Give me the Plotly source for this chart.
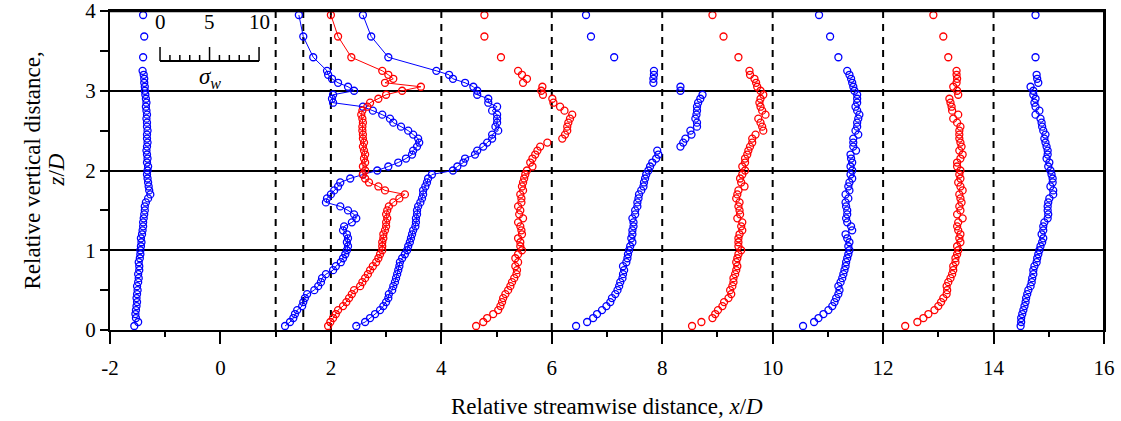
import plotly.graph_objects as go

# Measurement heights z/D (same for every profile)
Z = [0.05, 0.10, 0.15, 0.20, 0.25, 0.30, 0.35, 0.40, 0.45, 0.50,
     0.55, 0.60, 0.65, 0.70, 0.75, 0.80, 0.85, 0.90, 0.95, 1.00,
     1.05, 1.10, 1.15, 1.20, 1.25, 1.30, 1.35, 1.40, 1.45, 1.50,
     1.55, 1.60, 1.65, 1.70, 1.75, 1.80, 1.85, 1.90, 1.95, 2.00,
     2.05, 2.10, 2.15, 2.20, 2.25, 2.30, 2.35, 2.40, 2.45, 2.50,
     2.55, 2.60, 2.65, 2.70, 2.75, 2.80, 2.85, 2.90, 2.95, 3.00,
     3.05, 3.10, 3.15, 3.20, 3.25, 3.42, 3.68, 3.95]

# Profile positions (x/D), baseline station + scaled sigma_w
X_UP = [-1.56, -1.49, -1.53, -1.54, -1.53, -1.52, -1.51, -1.52, -1.51, -1.50,
        -1.51, -1.49, -1.48, -1.49, -1.47, -1.47, -1.48, -1.46, -1.45, -1.45,
        -1.44, -1.43, -1.44, -1.42, -1.41, -1.40, -1.40, -1.39, -1.38, -1.37,
        -1.37, -1.35, -1.31, -1.27, -1.29, -1.30, -1.31, -1.32, -1.33, -1.32,
        -1.31, -1.33, -1.32, -1.33, -1.34, -1.33, -1.32, -1.33, -1.33, -1.32,
        -1.33, -1.33, -1.34, -1.33, -1.34, -1.35, -1.34, -1.35, -1.36, -1.37,
        -1.37, -1.38, -1.38, -1.39, -1.41, -1.40, -1.38, -1.40]

X_1 = [1.17, 1.26, 1.32, 1.35, 1.39, 1.48, 1.50, 1.53, 1.57, 1.70,
       1.77, 1.82, 1.84, 1.91, 2.04, 2.09, 2.18, 2.22, 2.26, 2.29,
       2.31, 2.29, 2.31, 2.29, 2.22, 2.24, 2.38, 2.46, 2.42, 2.31,
       2.17, 1.91, 1.93, 2.00, 2.06, 2.13, 2.17, 2.35, 2.58, 2.84,
       3.04, 3.22, 3.36, 3.47, 3.49, 3.56, 3.60, 3.58, 3.49, 3.40,
       3.27, 3.13, 3.07, 2.93, 2.76, 2.58, 2.04, 2.02, 2.04, 2.42,
       2.31, 2.13, 2.02, 1.95, 1.93, 1.68, 1.50, 1.42]

X_1_5 = [1.95, 1.99, 2.04, 2.09, 2.13, 2.22, 2.28, 2.33, 2.38, 2.42,
         2.53, 2.57, 2.62, 2.67, 2.71, 2.76, 2.82, 2.86, 2.89, 2.93,
         2.93, 2.93, 2.95, 2.95, 2.98, 3.00, 3.00, 3.02, 3.00, 3.02,
         3.05, 3.13, 3.24, 3.34, 2.98, 2.86, 2.69, 2.62, 2.58, 2.62,
         2.58, 2.62, 2.60, 2.62, 2.60, 2.58, 2.60, 2.58, 2.58, 2.57,
         2.57, 2.58, 2.57, 2.55, 2.57, 2.66, 2.71, 2.86, 3.00, 3.29,
         3.63, 2.98, 3.13, 3.04, 2.93, 2.37, 2.13, 2.00]

X_2 = [2.46, 2.62, 2.71, 2.80, 2.89, 2.95, 3.00, 3.04, 3.05, 3.11,
       3.13, 3.16, 3.18, 3.20, 3.22, 3.24, 3.25, 3.29, 3.34, 3.38,
       3.40, 3.43, 3.45, 3.47, 3.49, 3.53, 3.54, 3.54, 3.56, 3.56,
       3.58, 3.62, 3.65, 3.67, 3.67, 3.71, 3.74, 3.76, 3.83, 4.21,
       4.29, 4.40, 4.43, 4.61, 4.65, 4.76, 4.83, 4.92, 4.92, 5.03,
       4.98, 5.01, 5.01, 5.01, 4.92, 5.01, 4.85, 4.85, 4.65, 4.65,
       4.58, 4.43, 4.21, 4.14, 3.91, 3.04, 2.73, 2.58]

X_4 = [4.63, 4.76, 4.83, 4.94, 5.03, 5.07, 5.10, 5.12, 5.16, 5.21,
       5.25, 5.28, 5.32, 5.36, 5.37, 5.34, 5.39, 5.34, 5.39, 5.46,
       5.43, 5.43, 5.39, 5.46, 5.45, 5.43, 5.39, 5.48, 5.41, 5.43,
       5.39, 5.45, 5.45, 5.43, 5.48, 5.46, 5.48, 5.50, 5.52, 5.55,
       5.65, 5.61, 5.65, 5.70, 5.74, 5.79, 5.92, 6.19, 6.24, 6.28,
       6.28, 6.30, 6.33, 6.37, 6.23, 6.15, 6.03, 6.01, 5.84, 5.81,
       5.83, 5.48, 5.55, 5.46, 5.39, 5.08, 4.78, 4.78]

X_6 = [6.44, 6.64, 6.75, 6.82, 6.91, 6.99, 7.06, 7.09, 7.15, 7.19,
       7.22, 7.24, 7.28, 7.29, 7.31, 7.29, 7.35, 7.37, 7.38, 7.40,
       7.42, 7.46, 7.44, 7.46, 7.46, 7.48, 7.48, 7.46, 7.51, 7.51,
       7.55, 7.55, 7.57, 7.58, 7.62, 7.66, 7.67, 7.69, 7.71, 7.75,
       7.78, 7.82, 7.89, 7.93, 7.91, 8.33, 8.38, 8.42, 8.53, 8.51,
       8.63, 8.63, 8.60, 8.62, 8.63, 8.63, 8.65, 8.69, 8.73, 8.33,
       8.33, 7.84, 7.84, 7.85, 7.85, 7.13, 6.71, 6.62]

X_8 = [8.54, 8.71, 8.91, 8.96, 9.01, 9.09, 9.12, 9.20, 9.25, 9.23,
       9.27, 9.29, 9.29, 9.32, 9.34, 9.36, 9.34, 9.36, 9.38, 9.43,
       9.38, 9.38, 9.38, 9.40, 9.45, 9.43, 9.45, 9.36, 9.41, 9.40,
       9.38, 9.40, 9.34, 9.36, 9.38, 9.49, 9.43, 9.41, 9.45, 9.50,
       9.45, 9.50, 9.50, 9.54, 9.56, 9.59, 9.63, 9.63, 9.69, 9.83,
       9.81, 9.78, 9.74, 9.87, 9.81, 9.78, 9.76, 9.78, 9.83, 9.78,
       9.72, 9.70, 9.67, 9.59, 9.58, 9.38, 9.11, 8.91]

X_10 = [10.55, 10.75, 10.83, 10.92, 11.01, 11.08, 11.12, 11.15, 11.19, 11.21,
        11.19, 11.23, 11.26, 11.28, 11.30, 11.32, 11.33, 11.35, 11.37, 11.39,
        11.37, 11.39, 11.35, 11.32, 11.44, 11.42, 11.35, 11.33, 11.35, 11.35,
        11.33, 11.32, 11.37, 11.32, 11.39, 11.37, 11.39, 11.44, 11.41, 11.44,
        11.41, 11.44, 11.42, 11.41, 11.51, 11.46, 11.46, 11.46, 11.55, 11.50,
        11.53, 11.53, 11.55, 11.57, 11.53, 11.50, 11.53, 11.53, 11.53, 11.48,
        11.46, 11.44, 11.42, 11.39, 11.35, 11.19, 11.04, 10.84]

X_12 = [12.40, 12.62, 12.73, 12.82, 12.93, 13.00, 13.05, 13.09, 13.15, 13.16,
        13.15, 13.18, 13.22, 13.25, 13.27, 13.27, 13.31, 13.31, 13.34, 13.36,
        13.34, 13.40, 13.38, 13.40, 13.36, 13.34, 13.36, 13.44, 13.34, 13.40,
        13.38, 13.42, 13.40, 13.38, 13.44, 13.40, 13.36, 13.40, 13.38, 13.40,
        13.34, 13.34, 13.40, 13.44, 13.38, 13.42, 13.40, 13.38, 13.38, 13.38,
        13.40, 13.34, 13.27, 13.36, 13.25, 13.24, 13.22, 13.20, 13.36, 13.34,
        13.27, 13.33, 13.34, 13.33, 13.33, 13.18, 13.09, 12.91]

X_14 = [14.49, 14.50, 14.50, 14.52, 14.54, 14.56, 14.58, 14.59, 14.61, 14.63,
        14.67, 14.69, 14.70, 14.72, 14.72, 14.74, 14.78, 14.79, 14.81, 14.83,
        14.85, 14.88, 14.90, 14.87, 14.90, 14.90, 14.92, 14.98, 14.99, 14.98,
        14.98, 14.99, 15.01, 15.08, 15.08, 15.03, 15.07, 15.07, 15.05, 15.03,
        14.99, 15.01, 14.96, 14.98, 14.98, 14.96, 14.94, 14.92, 14.94, 14.90,
        14.88, 14.87, 14.85, 14.76, 14.83, 14.76, 14.74, 14.76, 14.72, 14.72,
        14.67, 14.81, 14.79, 14.78, None, 14.76, None, 14.76]

# Baseline stations drawn as dashed verticals
STATIONS = [1, 1.5, 2, 4, 6, 8, 10, 12, 14]

# Axis ticks (hyphen minus as printed)
X_TICKS = [-2, 0, 2, 4, 6, 8, 10, 12, 14, 16]
X_TICK_TEXT = ["-2", "0", "2", "4", "6", "8", "10", "12", "14", "16"]
Y_TICKS = [0, 1, 2, 3, 4]

# Scale bar for sigma_w (x/D per unit of sigma_w)
SIGMA_SCALE = 0.1793
SCALE_X0 = -1.094
SCALE_Z = 3.373
SCALE_LABELS = [0, 5, 10]

BLUE = "#0000FF"
RED = "#FF0000"
FONT = "Times New Roman, Liberation Serif, serif"

profiles = [
    (X_UP, BLUE, False),
    (X_1, BLUE, True),
    (X_1_5, RED, True),
    (X_2, BLUE, True),
    (X_4, RED, False),
    (X_6, BLUE, False),
    (X_8, RED, False),
    (X_10, BLUE, False),
    (X_12, RED, False),
    (X_14, BLUE, False),
]

fig = go.Figure()
for xs, color, joined in profiles:
    fig.add_trace(go.Scatter(
        x=xs, y=Z,
        mode="lines+markers" if joined else "markers",
        line=dict(color=color, width=1),
        marker=dict(symbol="circle-open", size=7, color=color,
                    line=dict(width=1.3, color=color)),
        connectgaps=False,
        hoverinfo="skip",
    ))

shapes = []
for s in STATIONS:
    shapes.append(dict(type="line", xref="x", yref="y", x0=s, x1=s, y0=0, y1=4,
                       line=dict(color="black", width=2, dash="7px,6px"),
                       layer="below"))

# frame: top and right edges of the plotting area
shapes.append(dict(type="line", xref="paper", yref="paper", x0=0, x1=1, y0=1, y1=1,
                   line=dict(color="black", width=2.5)))
shapes.append(dict(type="line", xref="paper", yref="paper", x0=1, x1=1, y0=0, y1=1,
                   line=dict(color="black", width=2)))

# sigma_w scale bar
x_end = SCALE_X0 + 10 * SIGMA_SCALE
shapes.append(dict(type="line", xref="x", yref="y", x0=SCALE_X0, x1=x_end,
                   y0=SCALE_Z, y1=SCALE_Z, line=dict(color="black", width=2)))
for k in range(11):
    xk = SCALE_X0 + k * SIGMA_SCALE
    h = 0.176 if k % 5 == 0 else 0.075
    shapes.append(dict(type="line", xref="x", yref="y", x0=xk, x1=xk,
                       y0=SCALE_Z, y1=SCALE_Z + h,
                       line=dict(color="black", width=1.5)))

annotations = []
for v in SCALE_LABELS:
    annotations.append(dict(x=SCALE_X0 + v * SIGMA_SCALE, y=3.86, xref="x", yref="y",
                            text=str(v), showarrow=False,
                            font=dict(family=FONT, size=21, color="black")))
annotations.append(dict(x=-0.19, y=3.16, xref="x", yref="y",
                        text="<i>σ</i><sub><i>w</i></sub>", showarrow=False,
                        font=dict(family=FONT, size=23, color="black")))

# axis titles
annotations.append(dict(x=0.5, y=-0.24, xref="paper", yref="paper",
                        text="Relative streamwise distance, <i>x</i>/<i>D</i>",
                        showarrow=False, xanchor="center", yanchor="middle",
                        font=dict(family=FONT, size=23, color="black")))
annotations.append(dict(x=-(110 - 32) / 994, y=0.5, xref="paper", yref="paper",
                        text="Relative vertical distance,", textangle=-90,
                        showarrow=False, xanchor="center", yanchor="middle",
                        font=dict(family=FONT, size=23, color="black")))
annotations.append(dict(x=-(110 - 56) / 994, y=0.5, xref="paper", yref="paper",
                        text="<i>z</i>/<i>D</i>", textangle=-90,
                        showarrow=False, xanchor="center", yanchor="middle",
                        font=dict(family=FONT, size=23, color="black")))

fig.update_layout(
    width=1121, height=421,
    margin=dict(l=110, r=17, t=11, b=91, autoexpand=False),
    paper_bgcolor="white", plot_bgcolor="white",
    showlegend=False,
    font=dict(family=FONT, color="black", size=21),
    shapes=shapes, annotations=annotations,
    xaxis=dict(range=[-2, 16], tickmode="array", tickvals=X_TICKS,
               ticktext=X_TICK_TEXT, ticks="outside", ticklen=12,
               tickwidth=1.5, tickcolor="black", showline=True, linewidth=2,
               linecolor="black", mirror=True, showgrid=False, zeroline=False,
               automargin=False, ticklabelstandoff=6, ticklabeloverflow="allow",
               tickfont=dict(family=FONT, size=21, color="black"),
               minor=dict(dtick=1, tick0=-2, ticks="outside", ticklen=5,
                          tickwidth=1.5, tickcolor="black", showgrid=False)),
    yaxis=dict(range=[0, 4], tickmode="array", tickvals=Y_TICKS,
               ticks="outside", ticklen=8,
               tickwidth=1.5, tickcolor="black", showline=True, linewidth=2,
               linecolor="black", mirror=True, showgrid=True, gridcolor="black",
               gridwidth=1.5, zeroline=False, automargin=False,
               ticklabeloverflow="allow",
               tickfont=dict(family=FONT, size=21, color="black"),
               minor=dict(dtick=0.5, tick0=0, ticks="outside", ticklen=8,
                          tickwidth=1.5, tickcolor="black", showgrid=False)),
)

fig.write_html("out.html")
